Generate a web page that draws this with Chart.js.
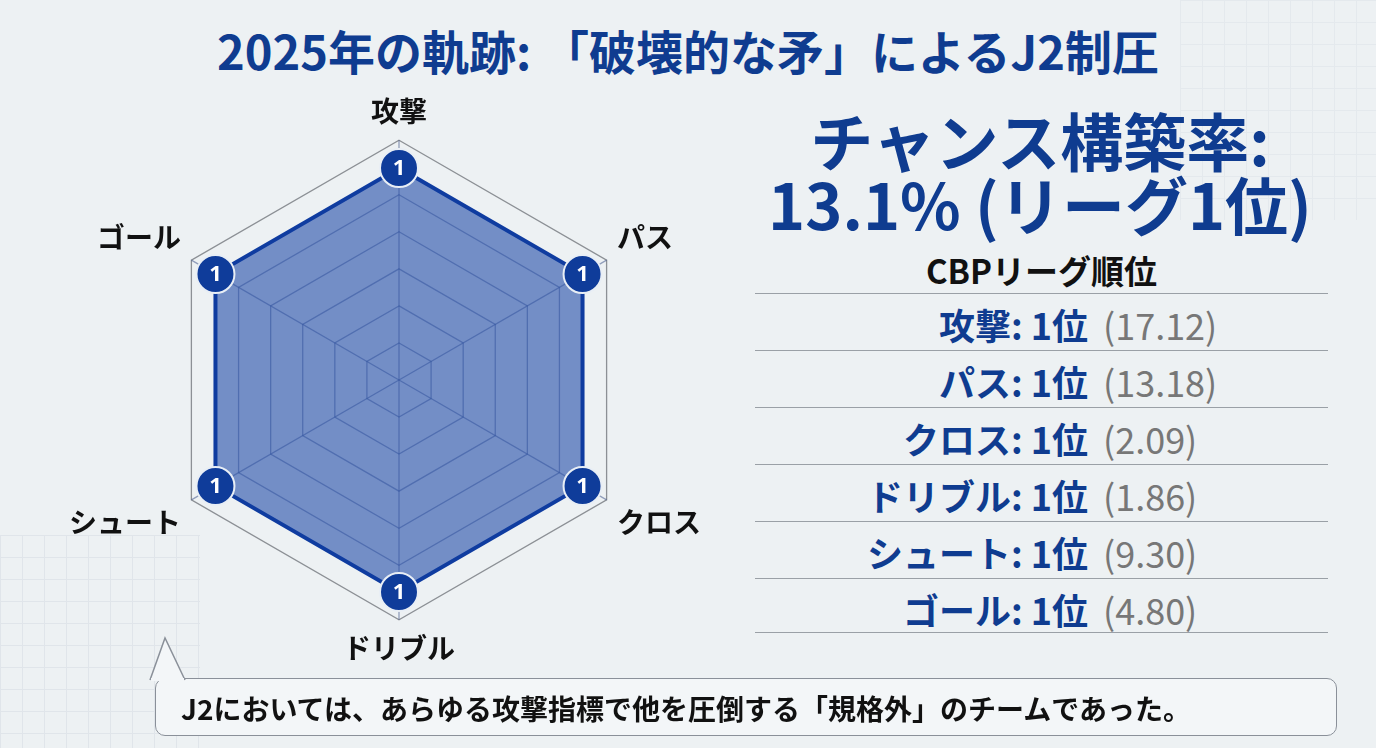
<!DOCTYPE html>
<html><head><meta charset="utf-8">
<script src="https://cdn.jsdelivr.net/npm/chart.js@4"></script>
<style>
body{margin:0;width:1376px;height:748px;background:#edf1f3;font-family:"Noto Sans CJK JP","Noto Sans",sans-serif;position:relative;overflow:hidden}
.grid{position:absolute;background-image:linear-gradient(#dde3e8 1px,transparent 1px),linear-gradient(90deg,#dde3e8 1px,transparent 1px);background-size:22px 22px;opacity:.8}
#title{position:absolute;left:0;width:1376px;top:20px;text-align:center;font-size:47px;font-weight:700;color:#0f3c90;line-height:60px}
#head{position:absolute;left:740px;width:600px;top:107px;text-align:center;font-size:63px;font-weight:700;color:#0f3c90;line-height:64px}
#sub{position:absolute;left:755px;width:573px;top:248px;text-align:center;font-size:33px;font-weight:700;color:#111;line-height:44px}
.row{position:absolute;left:755px;width:573px;height:57px;border-top:1.5px solid #9aa0a6;font-size:36px;line-height:57px}
.row .l{position:absolute;right:240px;top:2px;font-weight:700;color:#0f3c90}
.row .v{position:absolute;left:348px;top:2px;color:#777}
#box{position:absolute;left:155px;top:678px;width:1180px;height:56px;border:1.5px solid #8a9099;border-radius:10px;background:#f3f6f8;line-height:56px;font-size:28px;font-weight:700;color:#111}
#box span{position:absolute;left:0px;width:1060px;text-align:center;top:1px;white-space:nowrap}
#tail{position:absolute;left:140px;top:636px}
#wrap{position:absolute;left:53px;top:51px;width:660px;height:660px}
</style></head><body>
<div class="grid" style="left:0;top:535px;width:200px;height:220px"></div>
<div class="grid" style="left:1180px;top:0;width:200px;height:220px;opacity:.5"></div>
<div id="title">2025年の軌跡: 「破壊的な矛」によるJ2制圧</div>
<div id="head">チャンス構築率:<br>13.1% (リーグ1位)</div>
<div id="sub">CBPリーグ順位</div>
<div id="rows"></div>
<div style="position:absolute;left:755px;width:573px;top:632px;border-top:1.5px solid #9aa0a6"></div>
<div id="wrap"><canvas id="c" width="660" height="660"></canvas></div>
<div id="box"><span>J2においては、あらゆる攻撃指標で他を圧倒する「規格外」のチームであった。</span></div>
<svg id="tail" width="60" height="45"><path d="M10 44 L25 2 L45 44" fill="#f3f6f8" stroke="#8a9099" stroke-width="1.5"/><rect x="11" y="42" width="33" height="4" fill="#f3f6f8"/></svg>
<script>
const categories=["攻撃","パス","クロス","ドリブル","シュート","ゴール"];
const ranks=[1,1,1,1,1,1];
const cbpValues=["17.12","13.18","2.09","1.86","9.30","4.80"];
const tickValues=[0.25,0.25,1.72,2.72,3.72,4.72,5.72,6.72];

const rows=document.getElementById('rows');
categories.forEach((c,i)=>{
  const d=document.createElement('div');d.className='row';d.style.top=(293+57*i)+'px';
  d.innerHTML=`<span class="l">${c}: ${ranks[i]}位</span><span class="v">(${cbpValues[i]})</span>`;
  rows.appendChild(d);
});

const dotLabels={id:'dotLabels',afterDatasetsDraw(ch){
  const ctx=ch.ctx;const meta=ch.getDatasetMeta(0);
  ctx.save();ctx.fillStyle='#fff';ctx.font='700 22px "Noto Sans"';ctx.textAlign='center';ctx.textBaseline='middle';
  meta.data.forEach((p,i)=>ctx.fillText(String(ranks[i]),p.x,p.y+1));
  ctx.restore();
}};

new Chart(document.getElementById('c'),{
  type:'radar',
  data:{labels:categories,datasets:[{data:ranks,backgroundColor:'rgba(40,80,170,0.62)',borderColor:'#0f3ca0',borderWidth:4,
    pointRadius:19,pointHoverRadius:19,pointBackgroundColor:'#0f3c9a',pointBorderColor:'#e8eef5',pointBorderWidth:2}]},
  options:{responsive:false,animation:false,events:[],layout:{padding:0},
    plugins:{legend:{display:false},tooltip:{enabled:false}},
    scales:{r:{reverse:true,min:0.25,max:6.72,
      afterBuildTicks(s){s.ticks=tickValues.map(v=>({value:v}));},
      ticks:{display:false},
      grid:{color:c=>c.index===1?'#8c9095':'rgba(70,90,140,0.55)',lineWidth:1.3},
      angleLines:{color:'rgba(70,90,140,0.55)',lineWidth:1.3},
      pointLabels:{color:'#111',padding:12,font:{size:28,weight:'700',family:'"Noto Sans CJK JP"'}}}}},
  plugins:[dotLabels]
});
</script></body></html>
